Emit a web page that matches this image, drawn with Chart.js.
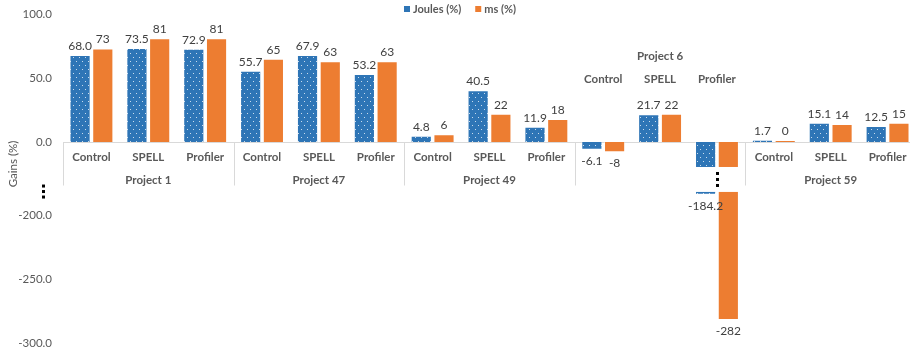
<!DOCTYPE html>
<html>
<head>
<meta charset="utf-8">
<script src="https://cdn.jsdelivr.net/npm/chart.js@4.4.0/dist/chart.umd.min.js"></script>
<style>
  html, body { margin: 0; padding: 0; background: #fff; overflow: hidden; }
  #wrap { width: 916px; height: 352px; position: relative; }
</style>
</head>
<body>
<div id="wrap"><canvas id="myChart"></canvas></div>
<script>
var projects = ['Project 1', 'Project 47', 'Project 49', 'Project 6', 'Project 59'];
var variants = ['Control', 'SPELL', 'Profiler'];
var joules = [68.0, 73.5, 72.9,  55.7, 67.9, 53.2,  4.8, 40.5, 11.9,  -6.1, 21.7, -184.2,  1.7, 15.1, 12.5];
var ms     = [73, 81, 81,  65, 63, 63,  6, 22, 18,  -8, 22, -282,  0.4, 14, 15];
var yTicks = [100, 50, 0, -200, -250, -300];

// broken y axis: everything under BREAK_AT is moved up by CUT units
var BREAK_AT = -20;
var CUT = 143;
function shown(v) { return v < BREAK_AT ? v + CUT : v; }

var BLUE = '#2E75B6', ORANGE = '#ED7D31';
var FONT = 'Lato, "Open Sans", sans-serif';

var canvas = document.getElementById('myChart');
var ctx = canvas.getContext('2d');

function dotPattern() {
    var tile = document.createElement('canvas');
    tile.width = 6; tile.height = 8;
    var g = tile.getContext('2d');
    g.fillStyle = BLUE;
    g.fillRect(0, 0, 6, 8);
    g.fillStyle = 'rgba(255,255,255,0.75)';
    g.fillRect(1, 1, 1, 1);
    g.fillRect(4, 5, 1, 1);
    return ctx.createPattern(tile, 'repeat');
}

var labels = [];
projects.forEach(function (p) {
    variants.forEach(function (v) { labels.push(v); });
});

function vdots(c, x, y, step) {
    c.fillStyle = '#000';
    for (var k = 0; k < 3; k++) c.fillRect(x - 1, y + k * step - 1, 3, 3);
}

var brokenAxis = {
    id: 'brokenAxis',
    beforeDatasetsDraw: function (chart) {
        var c = chart.ctx, ys = chart.scales.y, area = chart.chartArea;
        var y0 = Math.round(ys.getPixelForValue(0)) + 0.5;
        var cw = (area.right - area.left) / labels.length;
        c.save();
        c.strokeStyle = '#D9D9D9';
        c.lineWidth = 1;
        c.beginPath();
        c.moveTo(area.left, y0);
        c.lineTo(area.right, y0);
        for (var g = 0; g <= projects.length; g++) {
            var x = Math.round(area.left + g * 3 * cw) + 0.5;
            c.moveTo(x, y0);
            c.lineTo(x, y0 + 43);
        }
        c.stroke();
        c.restore();
    },
    afterDatasetsDraw: function (chart) {
        var c = chart.ctx, xs = chart.scales.x, ys = chart.scales.y;
        var y0 = ys.getPixelForValue(0);
        var m0 = chart.getDatasetMeta(0), m1 = chart.getDatasetMeta(1);
        c.save();

        // cut through the bars that pass the break
        var gapTop = ys.getPixelForValue(-19.5), gapBottom = ys.getPixelForValue(-39);
        var brokenGroups = {};
        joules.forEach(function (v, i) {
            if (v >= BREAK_AT && ms[i] >= BREAK_AT) return;
            brokenGroups[Math.floor(i / 3)] = true;
            var b1 = m0.data[i], b2 = m1.data[i];
            var l = b1.x - b1.width / 2 - 1, r = b2.x + b2.width / 2 + 1;
            c.fillStyle = '#fff';
            c.fillRect(l, gapTop, r - l, gapBottom - gapTop);
            vdots(c, Math.round((b1.x + b1.width / 2 + b2.x - b2.width / 2) / 2), gapTop + 6, 6);
        });
        // break mark on the y axis
        vdots(c, 43, ys.getPixelForValue(-34), 5.5);

        // value labels
        c.font = '12px ' + FONT;
        c.fillStyle = '#404040';
        c.textAlign = 'center';
        [[m0, joules, 1], [m1, ms, 0]].forEach(function (s) {
            s[0].data.forEach(function (bar, i) {
                var v = s[1][i];
                var txt = s[2] ? v.toFixed(1) : String(Math.round(v));
                if (v >= 0) {
                    c.textBaseline = 'bottom';
                    c.fillText(txt, bar.x, bar.y - 3);
                } else {
                    c.textBaseline = 'top';
                    c.fillText(txt, bar.x, bar.y + 5);
                }
            });
        });

        // category and project labels
        c.fillStyle = '#595959';
        c.textBaseline = 'middle';
        c.font = 'bold 11.5px ' + FONT;
        projects.forEach(function (p, g) {
            var up = brokenGroups[g];
            var catY = up ? 79 : y0 + 15;
            var projY = up ? 56 : y0 + 38;
            for (var k = 0; k < 3; k++) {
                c.fillText(labels[g * 3 + k], xs.getPixelForValue(g * 3 + k), catY);
            }
            c.fillText(p, xs.getPixelForValue(g * 3 + 1), projY);
        });

        // axis title
        c.save();
        c.translate(13, 164);
        c.rotate(-Math.PI / 2);
        c.font = '11.5px ' + FONT;
        c.fillText('Gains (%)', 0, 0);
        c.restore();

        // legend
        c.font = 'bold 11px ' + FONT;
        c.textAlign = 'left';
        var items = [['Joules (%)', BLUE], ['ms (%)', ORANGE]];
        var total = 0;
        items.forEach(function (it, i) { total += 9 + c.measureText(it[0]).width + (i ? 0 : 14); });
        var lx = chart.width / 2 + 2 - total / 2;
        items.forEach(function (it) {
            c.fillStyle = it[1];
            c.fillRect(lx, 6, 6, 6);
            c.fillStyle = '#595959';
            c.fillText(it[0], lx + 9, 9);
            lx += 9 + c.measureText(it[0]).width + 14;
        });
        c.restore();
    }
};

var myChart = new Chart(canvas, {
    type: 'bar',
    data: {
        labels: labels,
        datasets: [{
            label: 'Joules (%)',
            data: joules.map(shown),
            backgroundColor: dotPattern(),
            borderColor: 'rgba(255,255,255,0.35)',
            borderWidth: 1,
            categoryPercentage: 0.8,
            barPercentage: 0.93
        }, {
            label: 'ms (%)',
            data: ms.map(shown),
            backgroundColor: ORANGE,
            borderColor: 'rgba(255,255,255,0.35)',
            borderWidth: 1,
            minBarLength: 2,
            categoryPercentage: 0.8,
            barPercentage: 0.93
        }]
    },
    options: {
        responsive: true,
        maintainAspectRatio: false,
        animation: false,
        layout: { padding: { top: 14, bottom: 9, left: 0, right: 0 } },
        plugins: {
            legend: { display: false },
            tooltip: { enabled: false }
        },
        scales: {
            x: { display: false },
            y: {
                min: shown(-300),
                max: 100,
                afterBuildTicks: function (s) {
                    s.ticks = yTicks.map(function (v) { return { value: shown(v) }; });
                },
                afterFit: function (s) {
                    s.width = 63;
                    s.paddingTop = 0;
                    s.paddingBottom = 0;
                },
                grid: { display: false, drawTicks: false },
                border: { display: false },
                ticks: {
                    padding: 11,
                    color: '#595959',
                    font: { family: FONT, size: 11.5 },
                    callback: function (v, i) { return yTicks[i].toFixed(1); }
                }
            }
        }
    },
    plugins: [brokenAxis]
});
</script>
</body>
</html>
